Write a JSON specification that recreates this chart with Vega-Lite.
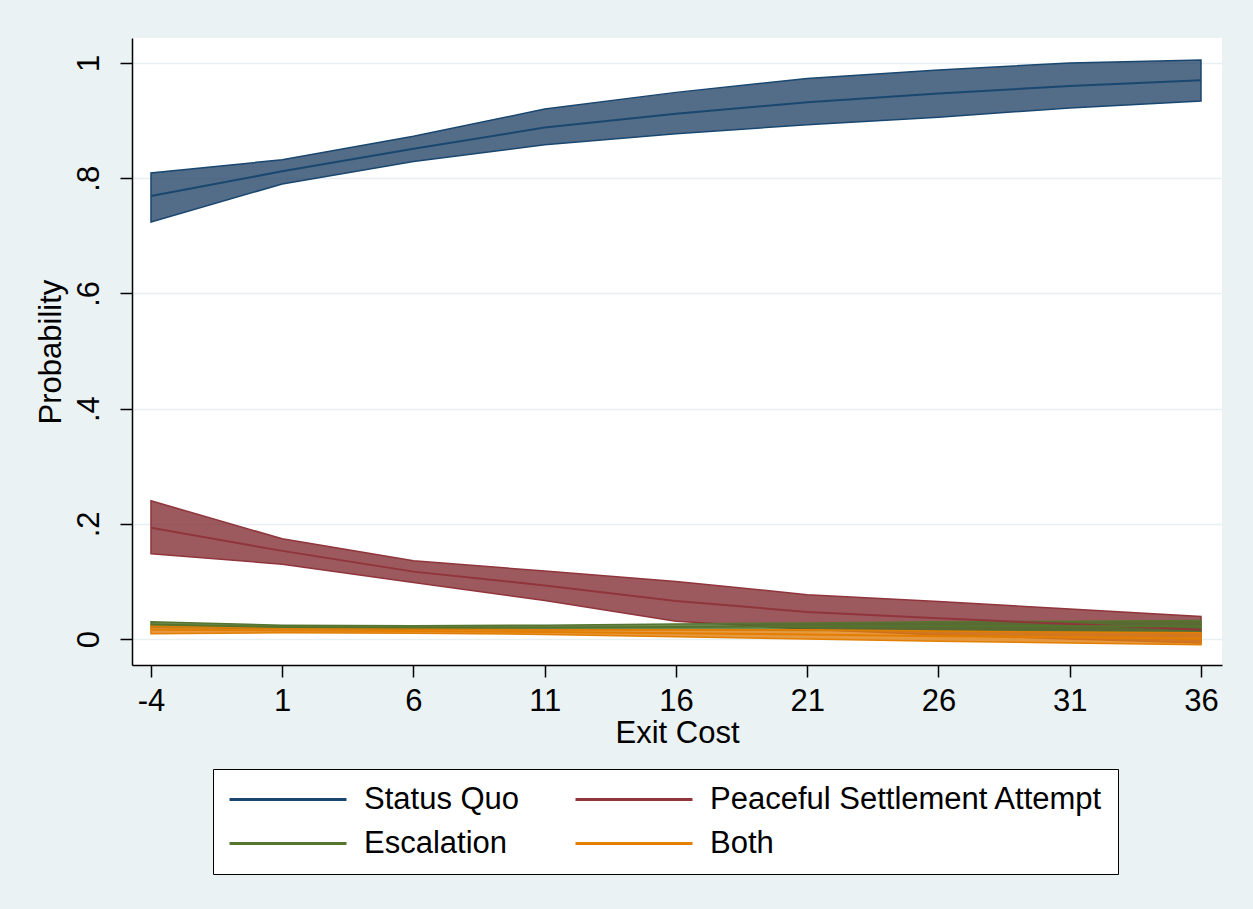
{
  "$schema": "https://vega.github.io/schema/vega-lite/v6.json",
  "width": 1090,
  "height": 627,
  "autosize": {"type": "none"},
  "padding": {"left": 132, "top": 38, "right": 31, "bottom": 244},
  "background": "#eaf2f3",
  "config": {
    "view": {"fill": "white", "stroke": null},
    "font": "Liberation Sans",
    "axis": {
      "domainColor": "black", "domainWidth": 1.5,
      "tickColor": "black", "tickWidth": 1.5, "tickSize": 12,
      "labelFont": "Liberation Sans", "labelFontSize": 31, "labelColor": "black",
      "titleFont": "Liberation Sans", "titleFontSize": 31, "titleColor": "black", "titleFontWeight": "normal"
    },
    "legend": {
      "orient": "none", "legendX": 81, "legendY": 731, "columns": 2,
      "symbolType": "stroke", "symbolSize": 13689, "symbolStrokeWidth": 3,
      "labelFontSize": 31, "labelFont": "Liberation Sans", "labelColor": "black", "labelOffset": 16,
      "columnPadding": 54, "rowPadding": 12, "clipHeight": 31,
      "padding": 15, "fillColor": "white", "strokeColor": "black", "labelLimit": 600
    }
  },
  "data": {
    "values": [
      {"x": -4, "cat": "Status Quo", "m": 0.769, "lo": 0.724, "hi": 0.809},
      {"x": 1, "cat": "Status Quo", "m": 0.812, "lo": 0.790, "hi": 0.832},
      {"x": 6, "cat": "Status Quo", "m": 0.851, "lo": 0.829, "hi": 0.873},
      {"x": 11, "cat": "Status Quo", "m": 0.888, "lo": 0.858, "hi": 0.920},
      {"x": 16, "cat": "Status Quo", "m": 0.912, "lo": 0.877, "hi": 0.949},
      {"x": 21, "cat": "Status Quo", "m": 0.932, "lo": 0.893, "hi": 0.973},
      {"x": 26, "cat": "Status Quo", "m": 0.947, "lo": 0.906, "hi": 0.988},
      {"x": 31, "cat": "Status Quo", "m": 0.960, "lo": 0.922, "hi": 1.000},
      {"x": 36, "cat": "Status Quo", "m": 0.970, "lo": 0.934, "hi": 1.005},
      {"x": -4, "cat": "Peaceful Settlement Attempt", "m": 0.193, "lo": 0.148, "hi": 0.240},
      {"x": 1, "cat": "Peaceful Settlement Attempt", "m": 0.153, "lo": 0.130, "hi": 0.174},
      {"x": 6, "cat": "Peaceful Settlement Attempt", "m": 0.117, "lo": 0.098, "hi": 0.136},
      {"x": 11, "cat": "Peaceful Settlement Attempt", "m": 0.093, "lo": 0.067, "hi": 0.118},
      {"x": 16, "cat": "Peaceful Settlement Attempt", "m": 0.066, "lo": 0.031, "hi": 0.100},
      {"x": 21, "cat": "Peaceful Settlement Attempt", "m": 0.047, "lo": 0.017, "hi": 0.077},
      {"x": 26, "cat": "Peaceful Settlement Attempt", "m": 0.036, "lo": 0.007, "hi": 0.065},
      {"x": 31, "cat": "Peaceful Settlement Attempt", "m": 0.026, "lo": 0.000, "hi": 0.052},
      {"x": 36, "cat": "Peaceful Settlement Attempt", "m": 0.016, "lo": -0.007, "hi": 0.039},
      {"x": -4, "cat": "Escalation", "m": 0.025, "lo": 0.020, "hi": 0.030},
      {"x": 1, "cat": "Escalation", "m": 0.021, "lo": 0.018, "hi": 0.024},
      {"x": 6, "cat": "Escalation", "m": 0.020, "lo": 0.017, "hi": 0.023},
      {"x": 11, "cat": "Escalation", "m": 0.020, "lo": 0.016, "hi": 0.024},
      {"x": 16, "cat": "Escalation", "m": 0.021, "lo": 0.016, "hi": 0.026},
      {"x": 21, "cat": "Escalation", "m": 0.022, "lo": 0.015, "hi": 0.028},
      {"x": 26, "cat": "Escalation", "m": 0.022, "lo": 0.014, "hi": 0.030},
      {"x": 31, "cat": "Escalation", "m": 0.022, "lo": 0.013, "hi": 0.031},
      {"x": 36, "cat": "Escalation", "m": 0.022, "lo": 0.012, "hi": 0.032},
      {"x": -4, "cat": "Both", "m": 0.016, "lo": 0.009, "hi": 0.023},
      {"x": 1, "cat": "Both", "m": 0.015, "lo": 0.011, "hi": 0.019},
      {"x": 6, "cat": "Both", "m": 0.014, "lo": 0.010, "hi": 0.018},
      {"x": 11, "cat": "Both", "m": 0.012, "lo": 0.008, "hi": 0.016},
      {"x": 16, "cat": "Both", "m": 0.010, "lo": 0.004, "hi": 0.016},
      {"x": 21, "cat": "Both", "m": 0.008, "lo": 0.000, "hi": 0.016},
      {"x": 26, "cat": "Both", "m": 0.005, "lo": -0.004, "hi": 0.014},
      {"x": 31, "cat": "Both", "m": 0.003, "lo": -0.007, "hi": 0.012},
      {"x": 36, "cat": "Both", "m": 0.001, "lo": -0.010, "hi": 0.011}
    ]
  },
  "encoding": {
    "x": {
      "field": "x", "type": "quantitative",
      "scale": {"domain": [-4.723, 36.8], "nice": false, "zero": false},
      "axis": {"values": [-4, 1, 6, 11, 16, 21, 26, 31, 36], "title": "Exit Cost", "grid": false, "labelPadding": 9, "titlePadding": 2, "labelFlush": false, "labelExpr": "datum.value < 0 ? '-' + abs(datum.value) : '' + datum.value"}
    }
  },
  "layer": [
    {
      "mark": {"type": "area", "orient": "vertical", "fillOpacity": 0.8, "strokeWidth": 1.5, "interpolate": "linear"},
      "encoding": {
        "y": {
          "field": "lo", "type": "quantitative",
          "scale": {"domain": [-0.0451, 1.0434], "nice": false, "zero": false},
          "axis": {
            "values": [0, 0.2, 0.4, 0.6, 0.8, 1], "title": "Probability",
            "grid": true, "gridColor": "#e8eff1", "gridWidth": 1.5,
            "labelAngle": 270, "labelAlign": "center", "labelBaseline": "alphabetic", "labelPadding": 22,
            "labelExpr": "datum.value == 0 ? '0' : datum.value == 1 ? '1' : '.' + round(datum.value * 10)",
            "titlePadding": 6
          }
        },
        "y2": {"field": "hi"},
        "fill": {
          "field": "cat", "type": "nominal", "title": null,
          "scale": {"domain": ["Status Quo", "Escalation", "Peaceful Settlement Attempt", "Both"], "range": ["#28476a", "#4a6e2a", "#833137", "#e07f10"]}
        },
        "stroke": {
          "field": "cat", "type": "nominal", "title": null,
          "scale": {"domain": ["Status Quo", "Escalation", "Peaceful Settlement Attempt", "Both"], "range": ["#1a476f", "#55752f", "#90353b", "#e37e00"]}
        }
      }
    },
    {
      "mark": {"type": "line", "strokeWidth": 2},
      "encoding": {
        "y": {"field": "m", "type": "quantitative"},
        "stroke": {
          "field": "cat", "type": "nominal", "title": null,
          "scale": {"domain": ["Status Quo", "Escalation", "Peaceful Settlement Attempt", "Both"], "range": ["#1a476f", "#55752f", "#90353b", "#e37e00"]}
        }
      }
    }
  ]
}
